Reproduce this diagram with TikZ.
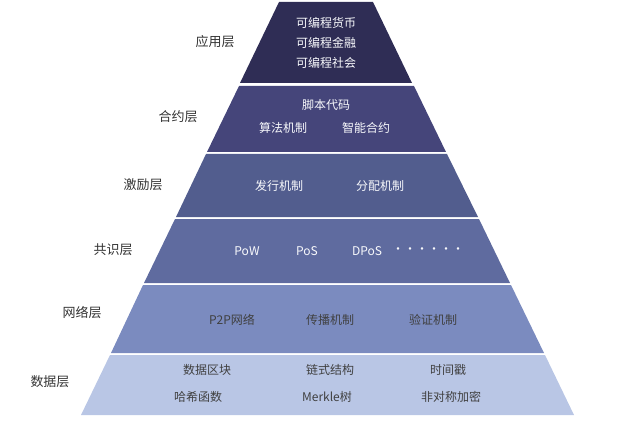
\documentclass[tikz,border=0pt]{standalone}
\usepackage{fontspec}
\setmainfont{Noto Sans CJK SC}
\usepackage{tikz}

\definecolor{layerA}{HTML}{2F2D55}
\definecolor{layerB}{HTML}{45457A}
\definecolor{layerC}{HTML}{525D8E}
\definecolor{layerD}{HTML}{5F6B9F}
\definecolor{layerE}{HTML}{7B8BBF}
\definecolor{layerF}{HTML}{B9C6E5}

\begin{document}
\begin{tikzpicture}[x=1pt, y=-1pt,
    side/.style={font=\fontsize{13}{13}\selectfont, text=black!80},
    item/.style={font=\fontsize{12}{12}\selectfont, text=white!90!layerF},
    darkitem/.style={font=\fontsize{12}{12}\selectfont, text=black!75}]
    \useasboundingbox (0,0) rectangle (618,422);
    \fill [layerA] (279,2) -- (373,2) -- (412,83) -- (240,83) -- cycle;
    \fill [layerB] (239,86) -- (414,86) -- (446,152) -- (207,152) -- cycle;
    \fill [layerC] (206,154) -- (447,154) -- (478,217) -- (176,217) -- cycle;
    \fill [layerD] (175,219) -- (479,219) -- (510,283) -- (144,283) -- cycle;
    \fill [layerE] (143,285) -- (511,285) -- (544,353) -- (111,353) -- cycle;
    \fill [layerF] (110,355) -- (545,355) -- (574,415) -- (81,415) -- cycle;
    \node [side] (app) at (215,42) {应用层};
    \node [side] (contract) at (178,117) {合约层};
    \node [side] (incentive) at (143,185) {激励层};
    \node [side] (consensus) at (113,250) {共识层};
    \node [side] (network) at (82,313) {网络层};
    \node [side] (data) at (50,382) {数据层};
    \node [item] (coin) at (326,23) {可编程货币};
    \node [item] (finance) at (326,43) {可编程金融};
    \node [item] (society) at (326,63) {可编程社会};
    \node [item] (script) at (326,105) {脚本代码};
    \node [item] (algo) at (283,128) {算法机制};
    \node [item] (smart) at (366,128) {智能合约};
    \node [item] (issue) at (279,186) {发行机制};
    \node [item] (alloc) at (380,186) {分配机制};
    \node [item] (pow) at (247,251) {PoW};
    \node [item] (pos) at (307,251) {PoS};
    \node [item] (dpos) at (367,251) {DPoS};
    \node [item] (more) at (428,251) {······};
    \node [darkitem] (ptp) at (232,320) {P2P网络};
    \node [darkitem] (spread) at (330,320) {传播机制};
    \node [darkitem] (verify) at (433,320) {验证机制};
    \node [darkitem] (block) at (207,370) {数据区块};
    \node [darkitem] (chain) at (330,370) {链式结构};
    \node [darkitem] (stamp) at (448,370) {时间戳};
    \node [darkitem] (hash) at (198,397) {哈希函数};
    \node [darkitem] (merkle) at (327,397) {Merkle树};
    \node [darkitem] (crypt) at (451,397) {非对称加密};
\end{tikzpicture}
\end{document}
